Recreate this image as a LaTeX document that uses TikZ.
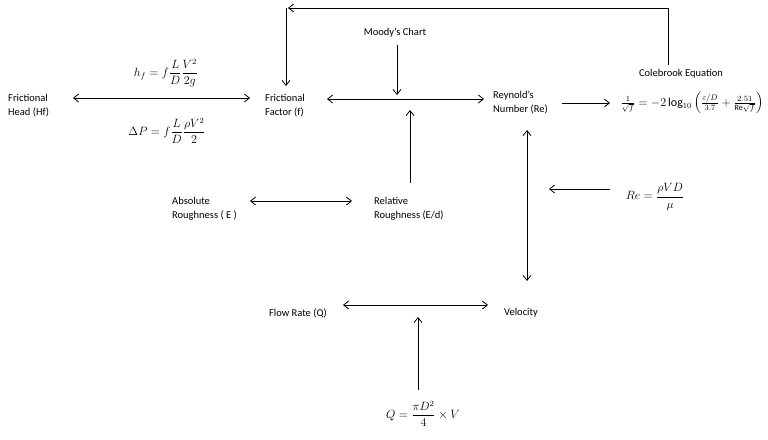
\documentclass[tikz,border=0pt]{standalone}
\usepackage{fontspec}
\setmainfont{Carlito}
\usepackage{amsmath}
\usetikzlibrary{arrows.meta}
\begin{document}
\begin{tikzpicture}[x=1pt,y=-1pt,
  lbl/.style={font=\fontsize{10.5}{14}\selectfont,align=left,inner sep=0pt},
  eq/.style={font=\fontsize{12}{14}\selectfont,inner sep=0pt},
  ar/.style={-{Straight Barb[length=5pt,width=8pt]},line width=0.8pt},
  dar/.style={{Straight Barb[length=5pt,width=8pt]}-{Straight Barb[length=5pt,width=8pt]},line width=0.8pt}]
\useasboundingbox (0,0) rectangle (768,439);
\node[lbl,anchor=west] (hf) at (8,106) {Frictional\\Head (Hf)};
\node[lbl,anchor=west] (ff) at (265,106) {Frictional\\Factor (f)};
\node[lbl] (moody) at (395,33) {Moody's Chart};
\node[lbl,anchor=west] (re) at (493,103) {Reynold's\\Number (Re)};
\node[lbl] (cb) at (681,74) {Colebrook Equation};
\node[eq] (cbe) at (692,103) {$\frac{1}{\sqrt{f}}=-2\log_{10}\left(\frac{\varepsilon/D}{3.7}+\frac{2.51}{\mathrm{Re}\sqrt{f}}\right)$};
\node[eq] (hfe) at (166,73) {$h_f=f\dfrac{L}{D}\dfrac{V^2}{2g}$};
\node[eq] (dpe) at (167,131) {$\Delta P=f\dfrac{L}{D}\dfrac{\rho V^2}{2}$};
\node[lbl,anchor=west] (abs) at (172,209) {Absolute\\Roughness ( E )};
\node[lbl,anchor=west] (rel) at (374,209) {Relative\\Roughness (E/d)};
\node[eq] (ree) at (655,197) {$Re=\dfrac{\rho VD}{\mu}$};
\node[lbl] (q) at (298,313) {Flow Rate (Q)};
\node[lbl] (v) at (521,313) {Velocity};
\node[eq] (qe) at (423,414) {$Q=\dfrac{\pi D^2}{4}\times V$};
\coordinate (c1) at (668,65); \coordinate (c2) at (288,8); \coordinate (c3) at (286,8); \coordinate (c4) at (286,86);
\draw[ar] (c1) |- (c2);
\draw[ar] (c3) -- (c4);
\draw[dar] (73,98) -- (250,98);
\draw[ar] (397,45) -- (397,95);
\draw[dar] (327,99) -- (484,99);
\draw[ar] (562,103) -- (610,103);
\draw[ar] (410,183) -- (410,110);
\draw[dar] (250,201) -- (352,201);
\draw[ar] (610,189) -- (549,189);
\draw[dar] (527,130) -- (527,281);
\draw[dar] (343,305) -- (488,305);
\draw[ar] (418,390) -- (418,317);
\end{tikzpicture}
\end{document}
